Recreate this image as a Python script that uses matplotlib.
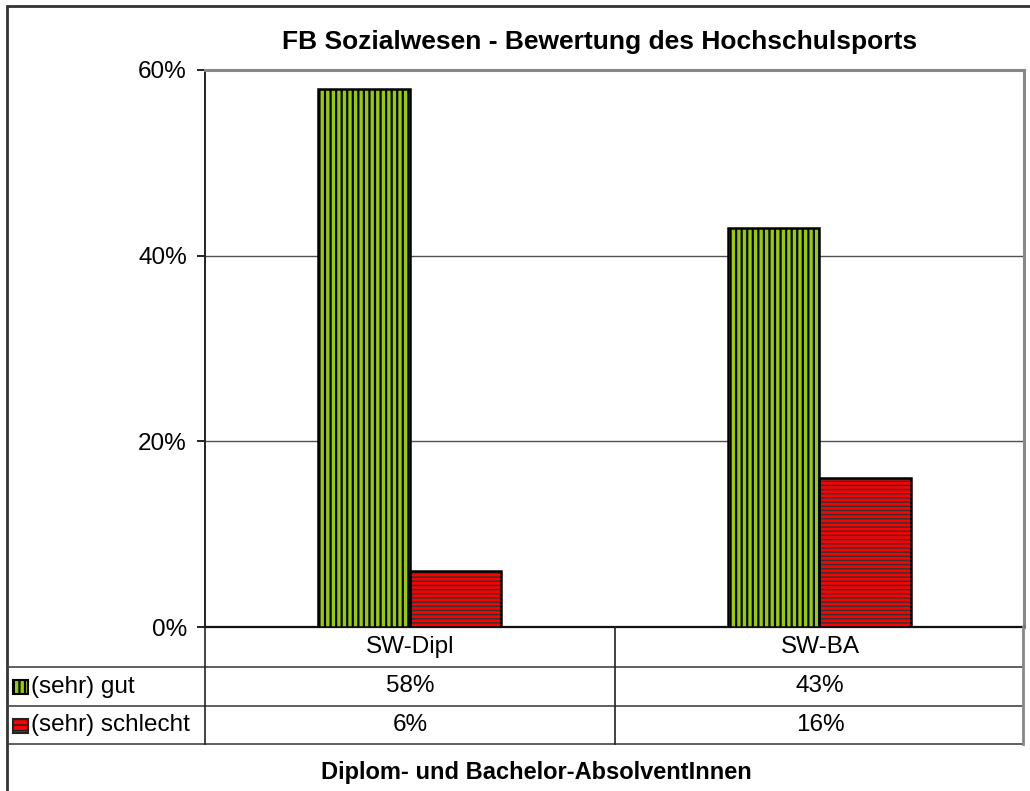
import matplotlib as mpl
import matplotlib.pyplot as plt
from matplotlib.lines import Line2D
from matplotlib.patches import Rectangle

plt.rcParams['font.family'] = ['Liberation Sans', 'DejaVu Sans']

categories = ['SW-Dipl', 'SW-BA']
series_names = ['(sehr) gut', '(sehr) schlecht']
gut = [58, 43]
schlecht = [6, 16]
yticks = [0, 20, 40, 60]

W, H = 1030, 791
green = '#99CC00'
red = '#FF0000'
fs = 17.5


def fx(x):
    return x / W


def fy(y):
    return 1 - y / H


def hline(x0, x1, y, color='#444444', lw=1.2):
    fig.add_artist(Line2D([fx(x0), fx(x1)], [fy(y), fy(y)], color=color, lw=lw))


def vline(x, y0, y1, color='#444444', lw=1.2):
    fig.add_artist(Line2D([fx(x), fx(x)], [fy(y0), fy(y1)], color=color, lw=lw))


fig = plt.figure(figsize=(W / 100, H / 100), dpi=100)
ax = fig.add_axes([fx(205), fy(627), fx(1024) - fx(205), fy(70) - fy(627)])

w = 0.224
xs = range(len(categories))
with mpl.rc_context({'hatch.linewidth': 1.6}):
    ax.bar([x - w / 2 for x in xs], gut, w, color=green, edgecolor='black',
           hatch='|||', linewidth=0, zorder=3)
    fig.add_artist(Rectangle((fx(13), fy(694)), fx(28) - fx(13), fy(680) - fy(694),
                             facecolor=green, edgecolor='black', hatch='|||', lw=1.5))
with mpl.rc_context({'hatch.linewidth': 1.1}):
    ax.bar([x + w / 2 for x in xs], schlecht, w, color=red, edgecolor='#333333',
           hatch='----', linewidth=0, zorder=3)
    fig.add_artist(Rectangle((fx(13), fy(733)), fx(28) - fx(13), fy(719) - fy(733),
                             facecolor=red, edgecolor='#222222', hatch='---', lw=1.5))
ax.bar([x - w / 2 for x in xs], gut, w, fill=False, edgecolor='black',
       linewidth=1.8, zorder=4)
ax.bar([x + w / 2 for x in xs], schlecht, w, fill=False, edgecolor='black',
       linewidth=1.8, zorder=4)

ax.set_xlim(-0.5, len(categories) - 0.5)
ax.set_ylim(0, 60)
ax.set_yticks(yticks)
ax.set_yticklabels([f'{t}%' for t in yticks], fontsize=fs)
ax.tick_params(axis='y', direction='out', length=6, width=1.2, pad=7)
ax.set_xticks([])
ax.yaxis.grid(True, color='#505050', lw=1.0, zorder=0)
ax.set_axisbelow(True)
for s in ['top', 'right']:
    ax.spines[s].set_color('#888888')
    ax.spines[s].set_linewidth(2.2)
ax.spines['left'].set_color('#222222')
ax.spines['left'].set_linewidth(1.4)
ax.spines['bottom'].set_color('#111111')
ax.spines['bottom'].set_linewidth(1.6)

fig.text(fx(600), fy(42), 'FB Sozialwesen - Bewertung des Hochschulsports',
         ha='center', va='center', fontsize=19, fontweight='bold')

# outer frame
fig.add_artist(Rectangle((fx(7), fy(800)), fx(1040) - fx(7), fy(6) - fy(800),
                         fill=False, edgecolor='#333333', lw=2))

# data table below the plot
rows_y = [627, 667, 706, 744]
hline(7, 1023, 667)
hline(7, 1023, 706)
hline(7, 1023, 744)
vline(205, 627, 744, color='#222222')
vline(615, 627, 744, color='#222222')
vline(1023, 627, 744, color='#888888', lw=2)

cell_x = [410, 820]
for cx, c in zip(cell_x, categories):
    fig.text(fx(cx), fy(647), c, ha='center', va='center', fontsize=fs)
for row, vals in enumerate([gut, schlecht]):
    yc = (rows_y[row + 1] + rows_y[row + 2]) / 2
    for cx, v in zip(cell_x, vals):
        fig.text(fx(cx), fy(yc), f'{v}%', ha='center', va='center', fontsize=fs)
    fig.text(fx(31), fy(yc), series_names[row], ha='left', va='center', fontsize=fs)

fig.text(fx(536), fy(772), 'Diplom- und Bachelor-AbsolventInnen',
         ha='center', va='center', fontsize=17, fontweight='bold')

fig.savefig('out.png', dpi=100)
